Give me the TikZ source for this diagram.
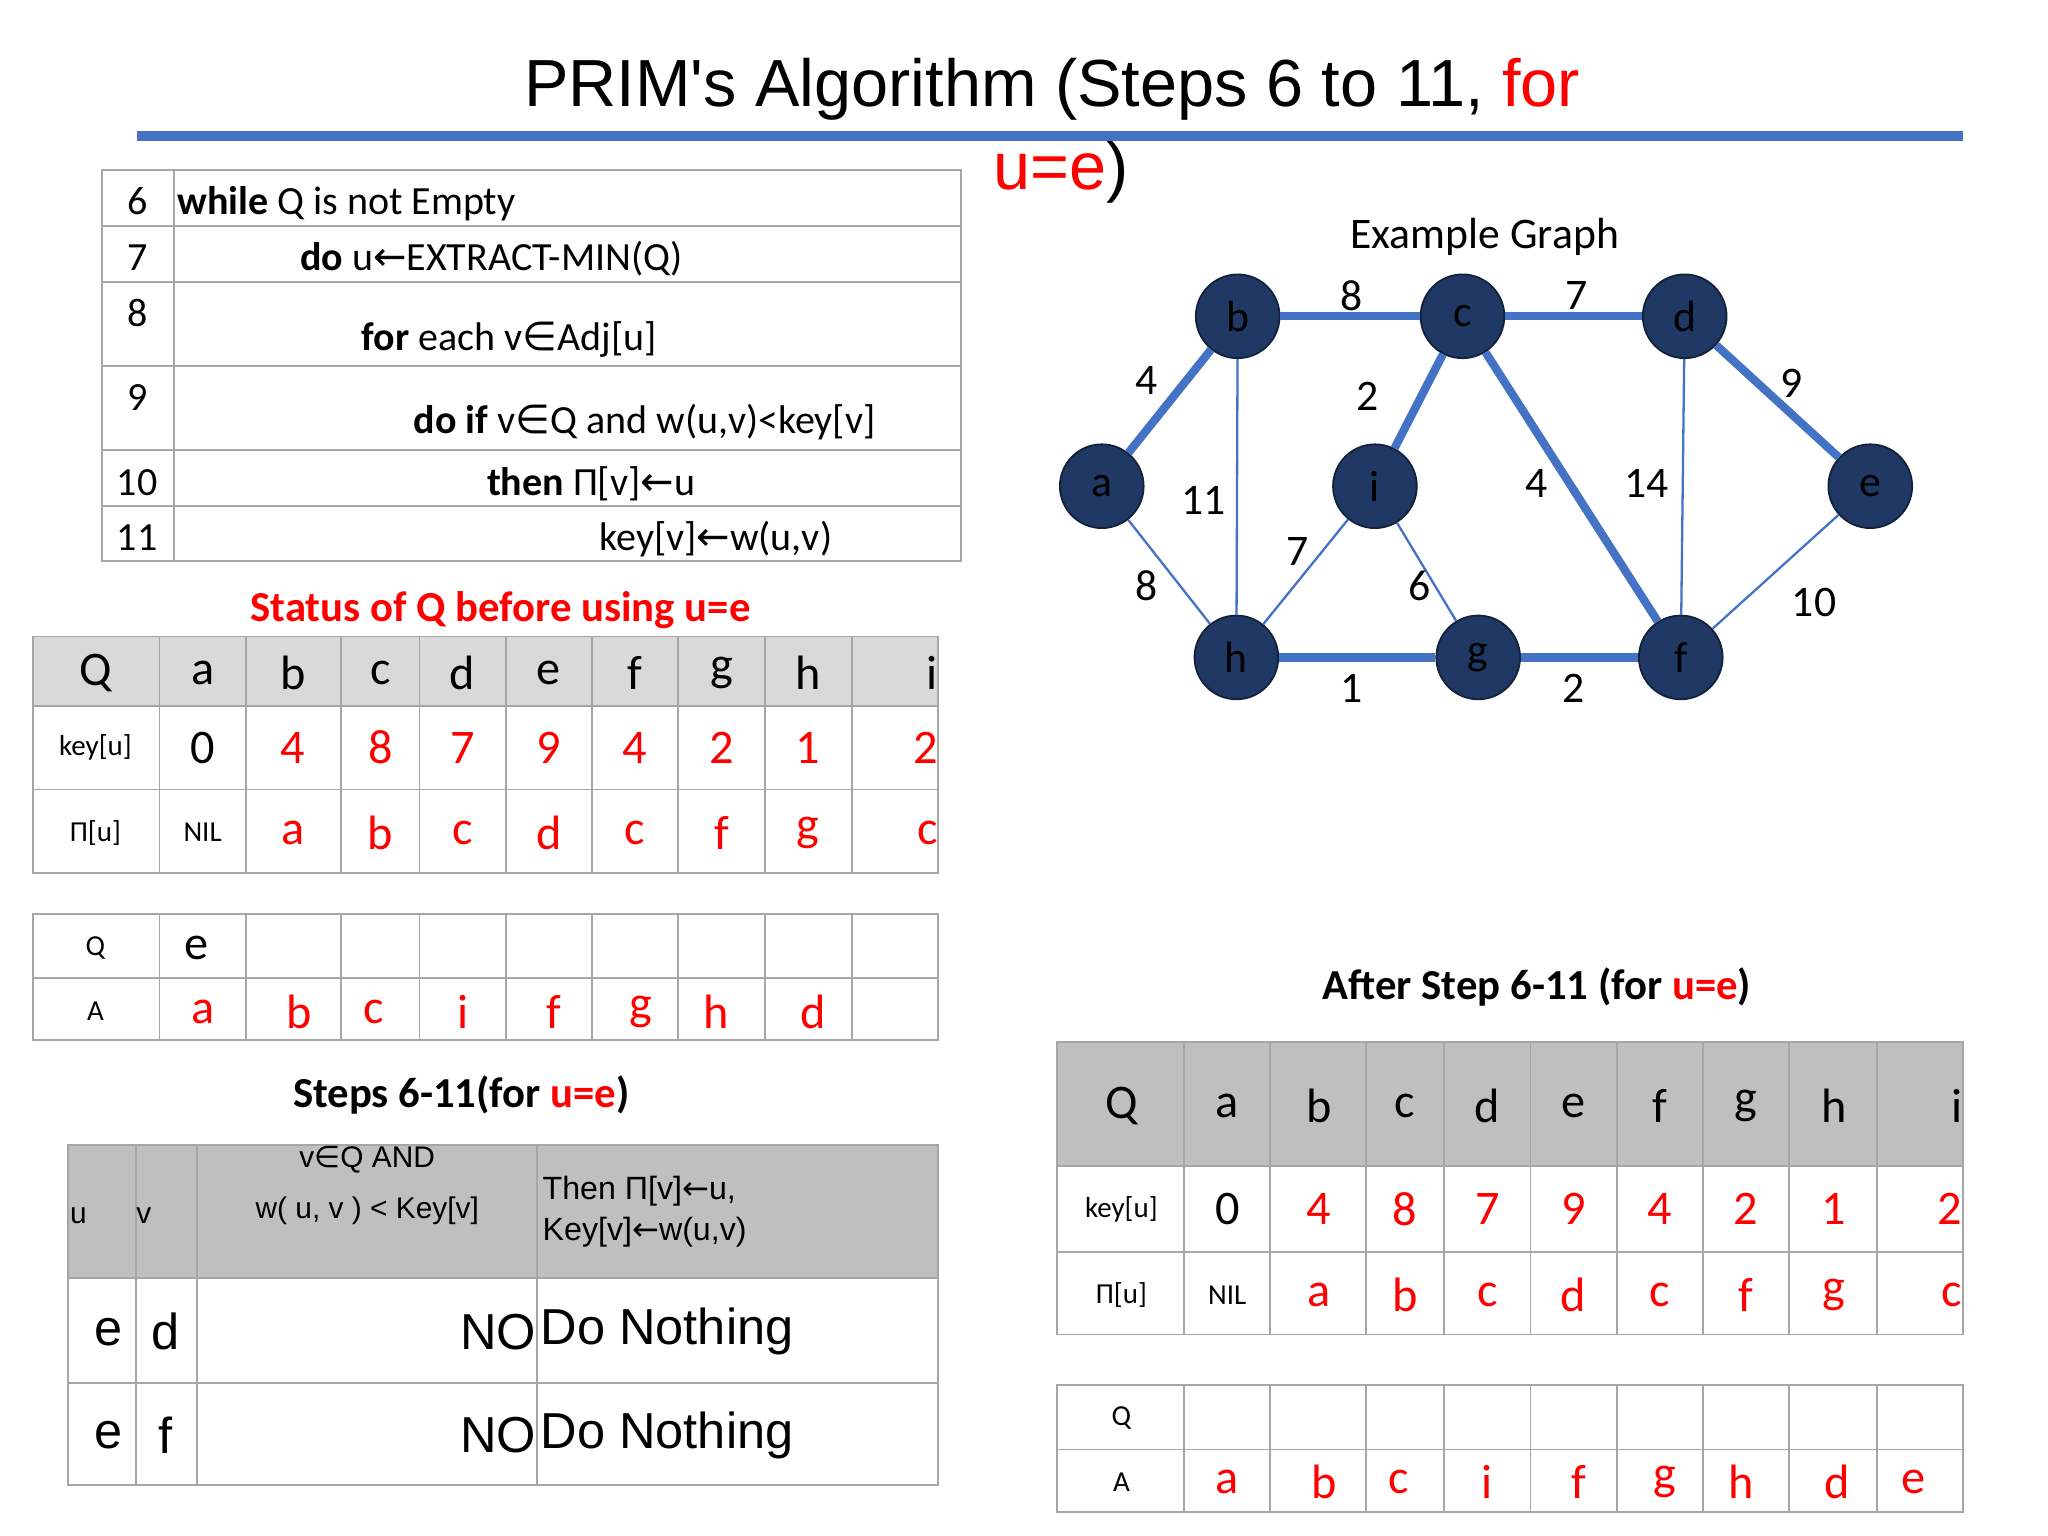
\documentclass[tikz,border=0pt]{standalone}
\usepackage{fontspec}
\setmainfont{Carlito}
\newfontfamily\arialf{Liberation Sans}
\newfontfamily\symf{DejaVu Sans}
\newcommand{\lar}{{\symf\char"2190}}
\newcommand{\inn}{{\symf\char"2208}}
\definecolor{ttl}{RGB}{68,114,196}
\definecolor{navy}{RGB}{31,56,100}
\definecolor{rd}{RGB}{255,0,0}
\definecolor{hdr}{RGB}{217,217,217}
\definecolor{hdrb}{RGB}{191,191,191}
\begin{document}
\begin{tikzpicture}[x=0.01cm,y=-0.01cm,
  grid/.style={draw=gray!70,line width=0.4pt},
  vx/.style={circle,fill=navy,draw=navy!60!black,minimum size=0.64cm,inner sep=0pt,font=\fontsize{9.5}{10}\selectfont},
  thk/.style={ttl,line width=1.8pt},
  thn/.style={ttl,line width=0.5pt},
  el/.style={font=\fontsize{9.5}{10}\selectfont},
  big/.style={font=\fontsize{10.5}{11}\selectfont},
  sm/.style={font=\fontsize{6.3}{7}\selectfont},
  ps/.style={font=\fontsize{8.7}{9}\selectfont,anchor=base west,inner sep=0pt}]
\useasboundingbox (0,0) rectangle (1567,1175);
% title
\node[font=\arialf\fontsize{14.5}{15}\selectfont] (t1) at (805,68) {PRIM's Algorithm (Steps 6 to 11, \textcolor{rd}{for}};
\node[font=\arialf\fontsize{14.5}{15}\selectfont,anchor=west] (t2) at (748,132) {\textcolor{rd}{u=e})};
\draw[ttl,line width=2.3pt] (105,104) -- (1502,104);
% pseudocode table
\draw[grid] (78,130) rectangle (735,429);
\foreach \y in {173,216,280,344,387} \draw[grid] (78,\y) -- (735,\y);
\draw[grid] (133,130) -- (133,429);
\foreach \n/\y in {6/164,7/207,8/250,9/314,10/379,11/421} \node[ps,anchor=base] at (105,\y) {\n};
\node[ps] at (135,164) {\textbf{while} Q is not Empty};
\node[ps] at (229,207) {\textbf{do} u\lar EXTRACT-MIN(Q)};
\node[ps] at (276,268) {\textbf{for} each v\inn Adj[u]};
\node[ps] at (316,332) {\textbf{do if} v\inn Q and w(u,v)<key[v]};
\node[ps] at (372,379) {\textbf{then} Π[v]\lar u};
\node[ps] at (458,421) {key[v]\lar w(u,v)};
% status title
\node[font=\bfseries\fontsize{9.3}{10}\selectfont,text=rd] (st) at (383,467) {Status of Q before using u=e};
% table 1
\fill[hdr] (25,487) rectangle (718,540);
\draw[grid] (25,487) rectangle (718,668);
\foreach \y in {540,604} \draw[grid] (25,\y) -- (718,\y);
\foreach \x in {122,188,261,321,387,453,519,585,652} \draw[grid] (\x,487) -- (\x,668);
\foreach \x/\t in {73/Q,155/a,224/b,291/c,354/d,420/e,486/f,552/g,618/h} \node[big] at (\x,515) {\t};
\node[big,anchor=east,inner sep=0pt] at (718,515) {i};
\node[sm] at (73,572) {key[u]};
\node[big] at (155,572) {0};
\foreach \x/\t in {224/4,291/8,354/7,420/9,486/4,552/2,618/1} \node[big,text=rd] at (\x,572) {\t};
\node[big,text=rd,anchor=east,inner sep=0pt] at (718,572) {2};
\node[sm] at (73,637) {Π[u]};
\node[sm] at (155,637) {NIL};
\foreach \x/\t in {224/a,291/b,354/c,420/d,486/c,552/f,618/g} \node[big,text=rd] at (\x,637) {\t};
\node[big,text=rd,anchor=east,inner sep=0pt] at (718,637) {c};
% table 2
\draw[grid] (25,699) rectangle (718,796);
\draw[grid] (25,748) -- (718,748);
\foreach \x in {122,188,261,321,387,453,519,585,652} \draw[grid] (\x,699) -- (\x,796);
\node[sm] at (73,725) {Q}; \node[big] at (150,725) {e};
\node[sm] at (73,774) {A};
\foreach \x/\t in {155/a,229/b,286/c,354/i,424/f,490/g,548/h,622/d} \node[big,text=rd] at (\x,774) {\t};
% steps title
\node[font=\bfseries\fontsize{9.3}{10}\selectfont] (s2) at (353,838) {Steps 6-11(for \textcolor{rd}{u=e})};
% table 3
\fill[hdrb] (52,876) rectangle (718,978);
\draw[grid] (52,876) rectangle (718,1136);
\foreach \y in {978,1058} \draw[grid] (52,\y) -- (718,\y);
\foreach \x in {104,151,411} \draw[grid] (\x,876) -- (\x,1136);
\node[font=\arialf\fontsize{6.5}{7}\selectfont] at (60,930) {u};
\node[font=\arialf\fontsize{6.5}{7}\selectfont] at (110,930) {v};
\node[font=\arialf\fontsize{6.5}{9}\selectfont,align=center] at (281,907) {v\inn Q AND\\[2pt] w( u, v ) < Key[v]};
\node[font=\arialf\fontsize{7}{9}\selectfont,align=left,anchor=west,inner sep=1pt] at (411,927) {Then Π[v]\lar u,\\Key[v]\lar w(u,v)};
\foreach \y/\a/\b in {1019/e/d,1098/e/f}{
  \node[font=\arialf\fontsize{11}{12}\selectfont] at (83,\y) {\a};
  \node[font=\arialf\fontsize{11}{12}\selectfont] at (127,\y) {\b};
  \node[font=\arialf\fontsize{11}{12}\selectfont,anchor=east,inner sep=0pt] at (411,\y) {NO};
  \node[font=\arialf\fontsize{11}{12}\selectfont,anchor=west,inner sep=0pt] at (413,\y) {Do Nothing};}
% graph
\node[font=\fontsize{9.5}{10}\selectfont] (eg) at (1136,181) {Example Graph};
\node[vx] (b) at (947,242) {b};
\node[vx] (c) at (1119,242) {c};
\node[vx] (d) at (1289,242) {d};
\node[vx] (a) at (843,372) {a};
\node[vx] (i) at (1052,372) {i};
\node[vx] (e) at (1431,372) {e};
\node[vx] (h) at (946,503) {h};
\node[vx] (g) at (1131,503) {g};
\node[vx] (f) at (1286,503) {f};
\draw[thk] (a)--(b); \draw[thk] (b)--(c); \draw[thk] (c)--(d); \draw[thk] (d)--(e);
\draw[thk] (c)--(i); \draw[thk] (c)--(f); \draw[thk] (h)--(g); \draw[thk] (g)--(f);
\draw[thn] (b)--(h); \draw[thn] (a)--(h); \draw[thn] (h)--(i); \draw[thn] (i)--(g);
\draw[thn] (d)--(f); \draw[thn] (e)--(f);
\foreach \x/\y/\t in {1034/226/8,1206/226/7,877/291/4,1046/303/2,1371/293/9,921/383/11,1176/370/4,1260/370/14,993/422/7,877/448/8,1086/448/6,1388/461/10,1034/527/1,1204/527/2}
  \node[el] at (\x,\y) {\t};
% after title
\node[font=\bfseries\fontsize{9.3}{10}\selectfont] (af) at (1176,755) {After Step 6-11 (for \textcolor{rd}{u=e})};
% table 4
\fill[hdrb] (809,797) rectangle (1502,892);
\draw[grid] (809,797) rectangle (1502,1021);
\foreach \y in {892,958} \draw[grid] (809,\y) -- (1502,\y);
\foreach \x in {906,972,1045,1105,1171,1237,1303,1369,1436} \draw[grid] (\x,797) -- (\x,1021);
\foreach \x/\t in {858/Q,939/a,1009/b,1075/c,1138/d,1204/e,1270/f,1336/g,1403/h} \node[big] at (\x,846) {\t};
\node[big,anchor=east,inner sep=0pt] at (1502,846) {i};
\node[sm] at (858,925) {key[u]};
\node[big] at (939,925) {0};
\foreach \x/\t in {1009/4,1075/8,1138/7,1204/9,1270/4,1336/2,1403/1} \node[big,text=rd] at (\x,925) {\t};
\node[big,text=rd,anchor=east,inner sep=0pt] at (1502,925) {2};
\node[sm] at (858,991) {Π[u]};
\node[sm] at (939,991) {NIL};
\foreach \x/\t in {1009/a,1075/b,1138/c,1204/d,1270/c,1336/f,1403/g} \node[big,text=rd] at (\x,991) {\t};
\node[big,text=rd,anchor=east,inner sep=0pt] at (1502,991) {c};
% table 5
\draw[grid] (809,1060) rectangle (1502,1157);
\draw[grid] (809,1109) -- (1502,1109);
\foreach \x in {906,972,1045,1105,1171,1237,1303,1369,1436} \draw[grid] (\x,1060) -- (\x,1157);
\node[sm] at (858,1085) {Q};
\node[sm] at (858,1134) {A};
\foreach \x/\t in {939/a,1013/b,1070/c,1138/i,1208/f,1274/g,1332/h,1406/d,1464/e} \node[big,text=rd] at (\x,1134) {\t};
\end{tikzpicture}
\end{document}
